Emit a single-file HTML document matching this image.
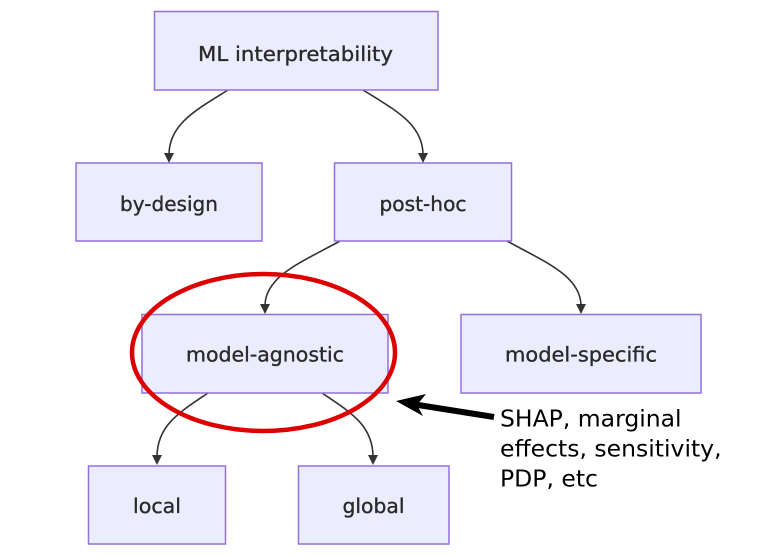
<!DOCTYPE html>
<html>
<head>
<meta charset="utf-8">
<style>
  html, body { margin: 0; padding: 0; background: #ffffff; }
  body { width: 777px; height: 556px; overflow: hidden; }
  svg { display: block; }
  .node rect { fill: #ECECFF; stroke: #9370DB; stroke-width: 1.5; }
  .node text { font-family: "DejaVu Sans", "Liberation Sans", sans-serif; font-size: 20.6px; fill: #2a2a2a; stroke: #2a2a2a; stroke-width: 0.35; text-anchor: middle; }
  .edge { fill: none; stroke: #333333; stroke-width: 1.6; }
  .ah { fill: #333333; }
  .note { font-family: "DejaVu Sans", "Liberation Sans", sans-serif; font-size: 23.5px; fill: #000000; }
</style>
</head>
<body>
<svg width="777" height="556" viewBox="0 0 777 556" xmlns="http://www.w3.org/2000/svg">
  <!-- edges -->
  <path class="edge" d="M228,90 C196,110 169,124 169,155"/>
  <polygon class="ah" points="164,153 174,153 169,163"/>
  <path class="edge" d="M363,90 C395,110 423,124 423,155"/>
  <polygon class="ah" points="418,153 428,153 423,163"/>

  <path class="edge" d="M340,241 C302,262 265,276 265,306"/>
  <polygon class="ah" points="260,304 270,304 265,314"/>
  <path class="edge" d="M507,241 C545,262 581,276 581,306"/>
  <polygon class="ah" points="576,304 586,304 581,314"/>

  <path class="edge" d="M208,393 C180,412 157,425 157,457"/>
  <polygon class="ah" points="152,455 162,455 157,465"/>
  <path class="edge" d="M322,393 C350,412 373,425 373,457"/>
  <polygon class="ah" points="368,455 378,455 373,465"/>

  <!-- nodes -->
  <g class="node"><rect x="154.5" y="11.5" width="283.5" height="78.5"/><text x="295.5" y="61" textLength="195" lengthAdjust="spacingAndGlyphs">ML interpretability</text></g>
  <g class="node"><rect x="76" y="163" width="186" height="78"/><text x="169" y="211" textLength="98" lengthAdjust="spacingAndGlyphs">by-design</text></g>
  <g class="node"><rect x="334.5" y="163" width="177" height="78"/><text x="423" y="211" textLength="87" lengthAdjust="spacingAndGlyphs">post-hoc</text></g>
  <g class="node"><rect x="142" y="314.5" width="246" height="78.5"/><text x="265" y="361.5" textLength="158" lengthAdjust="spacingAndGlyphs">model-agnostic</text></g>
  <g class="node"><rect x="461" y="314.5" width="240" height="78.5"/><text x="581" y="361.5" textLength="152" lengthAdjust="spacingAndGlyphs">model-specific</text></g>
  <g class="node"><rect x="88.5" y="466" width="137" height="78"/><text x="157" y="513" textLength="48" lengthAdjust="spacingAndGlyphs">local</text></g>
  <g class="node"><rect x="298.5" y="466" width="150.5" height="78"/><text x="373.5" y="513" textLength="62" lengthAdjust="spacingAndGlyphs">global</text></g>

  <!-- red ellipse -->
  <ellipse cx="263.5" cy="352.5" rx="131.5" ry="78.5" fill="none" stroke="#dd0000" stroke-width="4.5"/>

  <!-- black arrow -->
  <line x1="494" y1="417" x2="415" y2="404.5" stroke="#000" stroke-width="6"/>
  <polygon points="396,401 426,394 417,405 423,416" fill="#000"/>

  <!-- annotation -->
  <text class="note" x="500" y="426.5">SHAP, marginal</text>
  <text class="note" x="500" y="456.5">effects, sensitivity,</text>
  <text class="note" x="500" y="486.5">PDP, etc</text>
</svg>
</body>
</html>
